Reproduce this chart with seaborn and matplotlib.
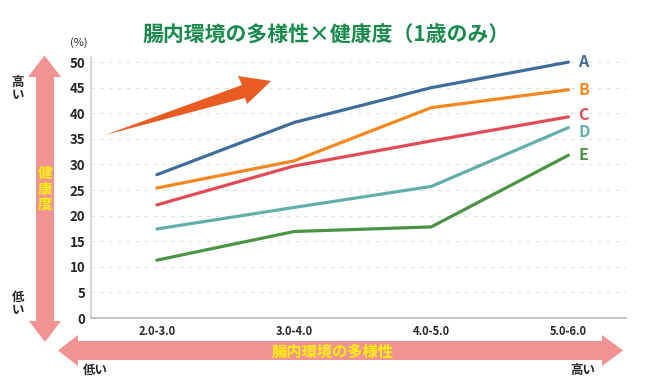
import numpy as np
import pandas as pd
import matplotlib
matplotlib.use('Agg')
import matplotlib.pyplot as plt
from matplotlib.patches import Polygon
import seaborn as sns

sns.set_style('white')
plt.rcParams['font.family'] = ['Noto Sans CJK JP', 'DejaVu Sans']

# data
categories = ['2.0-3.0', '3.0-4.0', '4.0-5.0', '5.0-6.0']
series_names = ['A', 'B', 'C', 'D', 'E']
vals_A = [28.0, 38.2, 45.0, 50.0]
vals_B = [25.4, 30.7, 41.1, 44.6]
vals_C = [22.1, 29.7, 34.6, 39.3]
vals_D = [17.4, 21.6, 25.7, 37.2]
vals_E = [11.3, 16.9, 17.8, 31.8]
y_ticks = [0, 5, 10, 15, 20, 25, 30, 35, 40, 45, 50]

colors = {'A': '#3f6d9b', 'B': '#f5871f', 'C': '#e24a55', 'D': '#62aeaa', 'E': '#4b9443'}
label_shift = {'A': 0, 'B': 0, 'C': 1.5, 'D': -3, 'E': 0}
pink = '#f19393'

all_vals = [vals_A, vals_B, vals_C, vals_D, vals_E]
rows = []
for name, vals in zip(series_names, all_vals):
    for i, v in enumerate(vals):
        rows.append({'x': i, 'value': v, 'series': name})
df = pd.DataFrame(rows)

W, H = 660, 390
fig = plt.figure(figsize=(W / 100, H / 100), dpi=100)
ax = fig.add_axes([91 / W, 1 - 318 / H, (626 - 91) / W, (318 - 57) / H])

sns.lineplot(data=df, x='x', y='value', hue='series', palette=colors,
             linewidth=2.3, legend=False, ax=ax)

ax.set_xlim(-0.48, 3.42)
ax.set_ylim(0, 51)
ax.set_xticks(range(len(categories)))
ax.set_xticklabels(categories, fontsize=8, fontweight='bold')
ax.set_yticks(y_ticks)
ax.set_yticklabels(y_ticks, fontsize=9.5, fontweight='bold')
ax.tick_params(axis='both', length=0)
ax.tick_params(axis='x', pad=5)
ax.tick_params(axis='y', pad=4)
ax.set_xlabel('')
ax.set_ylabel('')
ax.yaxis.grid(True, linestyle=(0, (3, 5)), color='#dddddd', linewidth=0.8)
ax.xaxis.grid(False)
for s in ['top', 'right']:
    ax.spines[s].set_visible(False)
ax.spines['left'].set_color('#d0d0d0')
ax.spines['bottom'].set_color('#bbbbbb')
ax.spines['left'].set_linewidth(1.2)
ax.spines['bottom'].set_linewidth(1.2)

# series labels at line ends
for name, vals in zip(series_names, all_vals):
    ax.annotate(name, (len(vals) - 1, vals[-1]), xytext=(7, label_shift[name]),
                textcoords='offset points', color=colors[name], fontsize=11.5,
                fontweight='bold', va='center', ha='left', annotation_clip=False)

# overlay in pixel coordinates for arrows and captions
ov = fig.add_axes([0, 0, 1, 1], facecolor='none')
ov.set_xlim(0, W)
ov.set_ylim(H, 0)
ov.axis('off')

# vertical double arrow (health)
v_arrow = [(44.5, 55.5), (61, 77), (54, 77), (54, 321), (61, 321), (45, 342),
           (29, 321), (36, 321), (36, 77), (28, 77)]
ov.add_patch(Polygon(v_arrow, closed=True, color=pink, lw=0))
# horizontal double arrow (diversity)
h_arrow = [(58, 350.5), (78, 335), (78, 341), (602, 341), (602, 335), (623, 350.5),
           (602, 366), (602, 360), (78, 360), (78, 366)]
ov.add_patch(Polygon(h_arrow, closed=True, color=pink, lw=0))
# orange trend arrow
o_arrow = [(105, 135), (242, 85), (238, 76), (271, 81), (247, 104), (245, 98)]
ov.add_patch(Polygon(o_arrow, closed=True, color='#e85c24', lw=0))

ov.text(326, 34.5, '腸内環境の多様性×健康度（1歳のみ）', color='#188a4c', fontsize=15,
        fontweight='bold', ha='center', va='center')
ov.text(79, 43, '(%)', fontsize=8, ha='center', va='center')

for k, ch in enumerate('健康度'):
    ov.text(45.5, 173 + k * 15.5, ch, color='#fff200', fontsize=10.5, fontweight='bold',
            ha='center', va='center')
ov.text(333, 352, '腸内環境の多様性', color='#fff200', fontsize=11, fontweight='bold',
        ha='center', va='center')

for k, ch in enumerate('高い'):
    ov.text(18, 82 + k * 13.5, ch, fontsize=9, fontweight='bold', ha='center', va='center')
for k, ch in enumerate('低い'):
    ov.text(18, 297 + k * 13.5, ch, fontsize=9, fontweight='bold', ha='center', va='center')
ov.text(95, 370, '低い', fontsize=9, fontweight='bold', ha='center', va='center')
ov.text(583, 370, '高い', fontsize=9, fontweight='bold', ha='center', va='center')

fig.savefig('out.png', dpi=100)
